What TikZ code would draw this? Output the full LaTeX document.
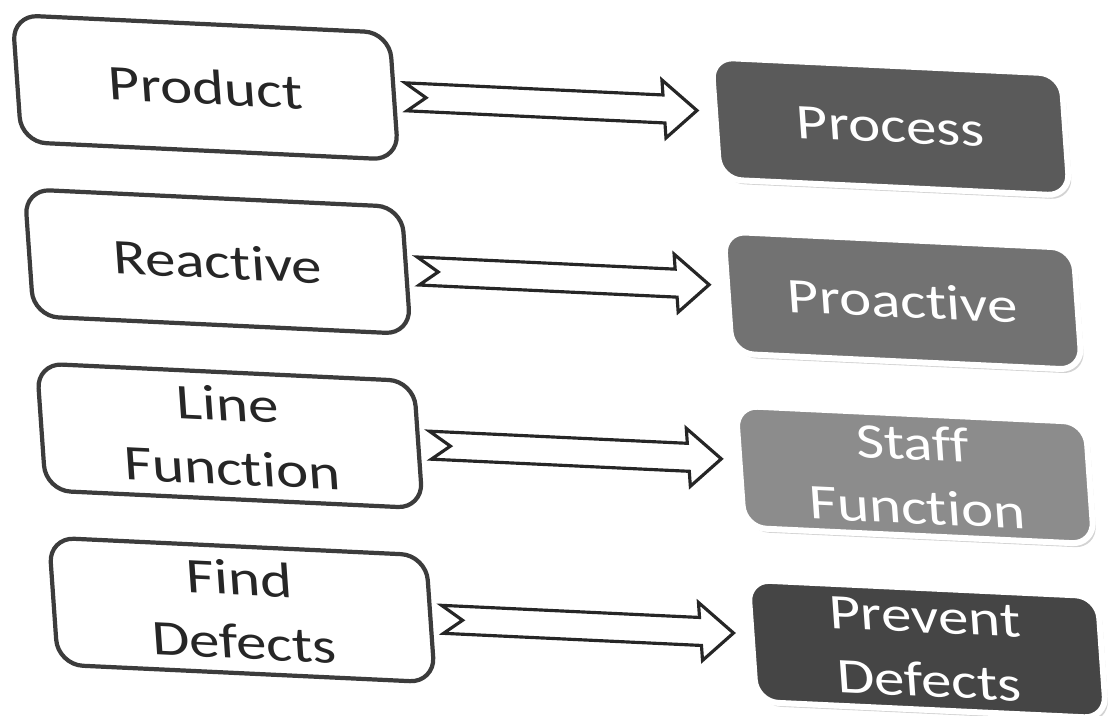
\documentclass[tikz,border=0pt]{standalone}
\usepackage{fontspec}
\setmainfont[FakeStretch=1.22, Ligatures={NoCommon,NoRare,NoContextual}]{Carlito}
\usetikzlibrary{positioning,calc,shadows}

\definecolor{boxline}{HTML}{3C3C3C}
\definecolor{procgray}{HTML}{5A5A5A}
\definecolor{proagray}{HTML}{727272}
\definecolor{staffgray}{HTML}{8C8C8C}
\definecolor{prevgray}{HTML}{454545}

\tikzset{
  oldway/.style={draw=boxline, line width=1.2pt, rounded corners=0.25cm, fill=white,
    text=black!85, minimum width=3.77cm, minimum height=1.27cm, align=center,
    font=\fontsize{14.2}{18.2}\selectfont},
  newway/.style={draw=white, line width=1.7pt, rounded corners=0.22cm, text=white,
    minimum width=3.5cm, minimum height=1.22cm, align=center, yshift=-0.07cm,
    font=\fontsize{14.2}{18.2}\selectfont,
    drop shadow={shadow xshift=0.03cm, shadow yshift=-0.04cm, opacity=0.35}},
  shiftarrow/.style={draw=black!85, line width=0.9pt, fill=white,
    to path={let \p1=(\tikztostart), \p2=(\tikztotarget) in
      (\x1+0.10cm,\y1+0.14cm) -- (\x2-0.48cm,\y1+0.14cm) -- (\x2-0.48cm,\y1+0.29cm)
      -- (\x2-0.15cm,\y1) -- (\x2-0.48cm,\y1-0.29cm) -- (\x2-0.48cm,\y1-0.14cm)
      -- (\x1+0.10cm,\y1-0.14cm) -- (\x1+0.30cm,\y1) -- cycle}}
}

\begin{document}
\begin{tikzpicture}
  \useasboundingbox (0,0) rectangle (11.09,-7.15);
  \clip (0,0) rectangle (11.09,-7.15);
  \begin{scope}[cm={1,-0.047,-0.07,1,(0,0)}, transform shape]
    % what it was
    \node[oldway] (product) at (2.00,-0.78) {Product};
    \node[oldway, below=0.43cm of product] (reactive) {Reactive};
    \node[oldway, below=0.43cm of reactive] (linefn) {Line\\Function};
    \node[oldway, below=0.43cm of linefn] (finddef) {Find\\Defects};
    % what it becomes
    \node[newway, fill=procgray, right=3.16cm of product] (process) {Process};
    \node[newway, fill=proagray, right=3.16cm of reactive] (proactive) {Proactive};
    \node[newway, fill=staffgray, right=3.16cm of linefn] (stafffn) {Staff\\Function};
    \node[newway, fill=prevgray, right=3.16cm of finddef] (prevdef) {Prevent\\Defects};

    \draw[shiftarrow] (product.east) to (process.west);
    \draw[shiftarrow] (reactive.east) to (proactive.west);
    \draw[shiftarrow] (linefn.east) to (stafffn.west);
    \draw[shiftarrow] (finddef.east) to (prevdef.west);
  \end{scope}
\end{tikzpicture}
\end{document}
